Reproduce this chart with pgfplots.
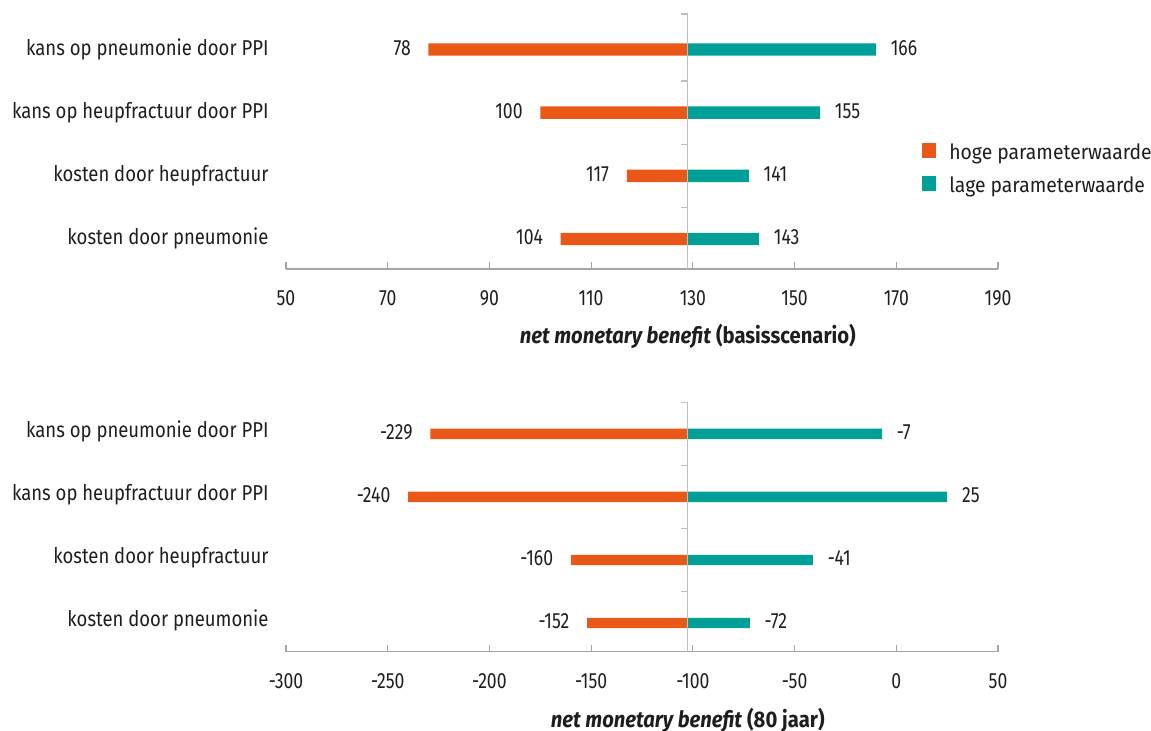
\documentclass[border=0pt]{standalone}
\usepackage{fontspec}
\setmainfont{Fira Sans}[FakeStretch=0.86]
\newfontfamily\numfont{Fira Sans}[FakeStretch=0.8]
\newfontfamily\legendfam{Fira Sans}[FakeStretch=0.92]
\newfontfamily\labelfam{Fira Sans}[FakeStretch=0.9]
\usepackage{pgfplots}
\pgfplotsset{compat=1.18}
\usepackage{pgfplotstable}

\definecolor{hoog}{RGB}{234,88,24}
\definecolor{laag}{RGB}{0,160,153}
\definecolor{axisgray}{RGB}{165,165,165}
\definecolor{midgray}{RGB}{190,190,190}
\definecolor{txt}{RGB}{30,30,30}

% net monetary benefit per parameter, position 3 = top row
\pgfplotstableread{
pos hoog laag
3 78 166
2 100 155
1 117 141
0 104 143
}\basis
\pgfplotstableread{
pos hoog laag
3 -229 -7
2 -240 25
1 -160 -41
0 -152 -72
}\tachtig

\newcommand\catfont{\fontsize{21.5bp}{24bp}\selectfont}
\newcommand\tickfont{\numfont\fontsize{22bp}{24bp}\selectfont}
\newcommand\legfont{\legendfam\fontsize{21bp}{23bp}\selectfont}
\newcommand\labfont{\labelfam\fontsize{22.5bp}{25bp}\selectfont\bfseries}

\pgfplotsset{
  tornado/.style={
    scale only axis, width=712bp,
    axis x line*=bottom,
    axis y line*=left,
    y axis line style={draw=none},
    x axis line style={axisgray, line width=1.1bp},
    ytick={0,1,2,3},
    yticklabels={kosten door pneumonie, kosten door heupfractuur,
                 kans op heupfractuur door PPI, kans op pneumonie door PPI},
    ytick style={draw=none},
    tick align=inside,
    xtick style={axisgray, line width=1.1bp},
    major tick length=7bp,
    xticklabel style={font=\tickfont, text=txt, anchor=north, inner sep=0pt, yshift=-21.7bp},
    yticklabel style={font=\catfont, text=txt, anchor=base east, inner sep=0pt, xshift=-17.3bp},
    xlabel style={font=\labfont, text=txt, at={(rel axis cs:0.5643,0)}, anchor=center, yshift=-67.5bp},
    point meta=explicit symbolic,
    clip=false,
    legend image code/.code={\fill[##1] (0bp,1.3bp) rectangle (14.7bp,16bp);},
  },
  hbar/.style={xbar, bar width=#1, bar shift=0pt, draw=none,
    nodes near coords,
    every node near coord/.append style={font=\tickfont, text=txt, inner sep=0pt}},
  links/.style={every node near coord/.append style={anchor=base east, xshift=-17.5bp, yshift=-5.5bp}},
  rechts/.style={every node near coord/.append style={anchor=base west, xshift=14.7bp, yshift=-5.5bp}},
}

\begin{document}
\begin{tikzpicture}
\path[use as bounding box] (0,0) rectangle (1151bp,-731bp);

% basisscenario
\begin{axis}[tornado,
  at={(286bp,-269bp)}, anchor=south west, height=255bp,
  x coord trafo/.code={\pgfmathparse{#1-129}},
  x coord inv trafo/.code={\pgfmathparse{#1+129}},
  xmin=50, xmax=190, ymin=-0.475, ymax=3.562,
  xtick={50,70,90,110,130,150,170,190},
  xticklabels={50,70,90,110,130,150,170,190},
  yticklabel style={yshift=-5.5bp},
  xlabel={\textit{net monetary benefit} (basisscenario)},
  legend style={at={(rel axis cs:0.8928,0.493)}, anchor=north west,
    draw=none, fill=none, inner sep=0pt, outer sep=0pt,
    row sep=13bp, column sep=13bp, font=\legfont,
    nodes={inner sep=0pt, text height=11bp, text depth=4bp, anchor=base west, text=txt}},
  legend cell align=left,
]
\addplot[hbar=12.4bp, fill=hoog, links] table[x=hoog, y=pos, meta=hoog] {\basis};
\addlegendentry{hoge parameterwaarde}
\addplot[hbar=12.4bp, fill=laag, rechts] table[x=laag, y=pos, meta=laag] {\basis};
\addlegendentry{lage parameterwaarde}
\addplot[midgray, line width=1.2bp, forget plot] coordinates {(129,-0.475) (129,3.562)};
\pgfplotsinvokeforeach{0.5,1.5,2.5,3.562}{
  \draw[midgray, line width=1.2bp] (axis cs:129,#1) -- ([xshift=-7bp]axis cs:129,#1);
}
\end{axis}

% 80 jaar
\begin{axis}[tornado,
  at={(286bp,-651.7bp)}, anchor=south west, height=249.4bp,
  x coord trafo/.code={\pgfmathparse{#1+102.5}},
  x coord inv trafo/.code={\pgfmathparse{#1-102.5}},
  xmin=-300, xmax=50, ymin=-0.455, ymax=3.5,
  xtick={-300,-250,-200,-150,-100,-50,0,50},
  xticklabels={-300,-250,-200,-150,-100,-50,0,50},
  yticklabel style={yshift=-3.5bp},
  xlabel={\textit{net monetary benefit} (80 jaar)},
  xlabel style={yshift=-0.8bp},
]
\addplot[hbar=10.4bp, fill=hoog, links] table[x=hoog, y=pos, meta=hoog] {\tachtig};
\addplot[hbar=10.4bp, fill=laag, rechts] table[x=laag, y=pos, meta=laag] {\tachtig};
\addplot[midgray, line width=1.2bp, forget plot] coordinates {(-102.5,-0.455) (-102.5,3.5)};
\pgfplotsinvokeforeach{0.5,1.5,2.5,3.5}{
  \draw[midgray, line width=1.2bp] (axis cs:-102.5,#1) -- ([xshift=-7bp]axis cs:-102.5,#1);
}
\end{axis}
\end{tikzpicture}
\end{document}
